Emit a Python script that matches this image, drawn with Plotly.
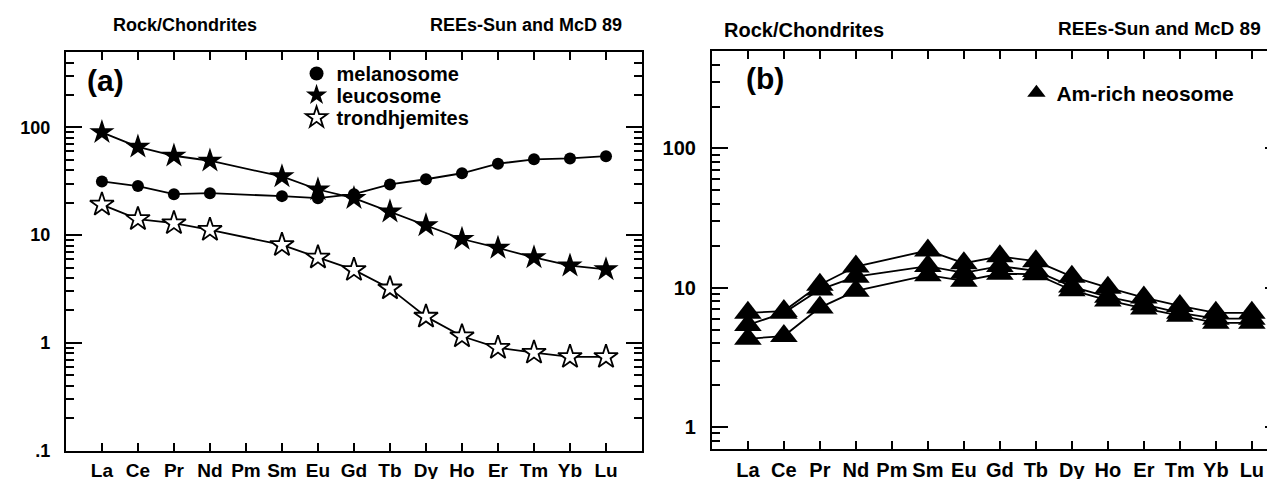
import plotly.graph_objects as go

elements = ["La", "Ce", "Pr", "Nd", "Pm", "Sm", "Eu", "Gd", "Tb", "Dy", "Ho", "Er", "Tm", "Yb", "Lu"]
xpos = list(range(1, len(elements) + 1))

# Panel (a) chondrite-normalised values (Pm not analysed)
melanosome = [31.5, 28.5, 24.0, 24.5, None, 23.0, 22.0, 24.0, 29.5, 33.0, 37.5, 46.0, 50.5, 51.5, 54.0]
leucosome = [90.0, 66.0, 54.5, 49.0, None, 35.0, 26.5, 22.0, 16.5, 12.3, 9.2, 7.6, 6.2, 5.2, 4.8]
trondhjemites = [19.2, 14.1, 12.9, 11.2, None, 8.1, 6.2, 4.75, 3.2, 1.75, 1.15, 0.9, 0.81, 0.74, 0.74]

# Panel (b) Am-rich neosome samples
neosome_1 = [6.6, 6.8, 10.5, 14.2, None, 18.5, 15.0, 16.8, 15.5, 12.0, 10.0, 8.5, 7.4, 6.6, 6.6]
neosome_2 = [5.4, 6.6, 9.7, 12.0, None, 14.3, 12.8, 14.3, 13.2, 10.2, 8.6, 7.6, 6.6, 6.0, 6.0]
neosome_3 = [4.3, 4.5, 7.2, 9.5, None, 12.3, 11.2, 12.6, 12.5, 9.6, 8.1, 7.1, 6.3, 5.6, 5.6]

W, H = 1275, 479
FONT = "Liberation Sans"
BLACK = "black"


def px_x(p):
    return p / W


def px_y(p):
    return 1 - p / H


def bold(size):
    return dict(family=FONT, size=size, color=BLACK, weight="bold")


fig = go.Figure()

line_style = dict(color=BLACK, width=1.8)

fig.add_trace(go.Scatter(x=xpos, y=melanosome, mode="lines+markers", connectgaps=True,
                         line=line_style, marker=dict(symbol="circle", size=12, color=BLACK),
                         showlegend=False, xaxis="x", yaxis="y"))
fig.add_trace(go.Scatter(x=xpos, y=leucosome, mode="lines+markers", connectgaps=True,
                         line=line_style, marker=dict(symbol="star", size=19, color=BLACK),
                         showlegend=False, xaxis="x", yaxis="y"))
fig.add_trace(go.Scatter(x=xpos, y=trondhjemites, mode="lines+markers", connectgaps=True,
                         line=line_style,
                         marker=dict(symbol="star", size=18, color="white", line=dict(color=BLACK, width=1.8)),
                         showlegend=False, xaxis="x", yaxis="y"))

for series in (neosome_1, neosome_2, neosome_3):
    fig.add_trace(go.Scatter(x=xpos, y=series, mode="lines+markers", connectgaps=True,
                             line=line_style, marker=dict(symbol="triangle-up", size=24, color=BLACK),
                             showlegend=False, xaxis="x2", yaxis="y2"))

# legend-only entries, each in its own legend box so spacing can match the original
legend_items = [
    ("melanosome", dict(symbol="circle", size=14, color=BLACK), "legend", "x", "y"),
    ("leucosome", dict(symbol="star", size=17, color=BLACK), "legend2", "x", "y"),
    ("trondhjemites", dict(symbol="star", size=17, color="white", line=dict(color=BLACK, width=1.8)),
     "legend3", "x", "y"),
    ("Am-rich neosome", dict(symbol="triangle-up", size=17, color=BLACK), "legend4", "x2", "y2"),
]
for name, mk, lg, xa, ya in legend_items:
    fig.add_trace(go.Scatter(x=[None], y=[None], mode="markers", name=name, marker=mk,
                             legend=lg, xaxis=xa, yaxis=ya))


def xaxis_style(fs):
    return dict(tickmode="array", tickvals=xpos, ticktext=elements, ticks="inside", ticklen=8,
                tickwidth=2, tickcolor=BLACK, showline=True, linewidth=2, linecolor=BLACK,
                mirror="allticks", showgrid=False, zeroline=False, tickfont=bold(fs),
                ticklabelstandoff=2)


def yaxis_style(fs):
    return dict(type="log", ticks="inside", ticklen=16, tickwidth=2, tickcolor=BLACK,
                showline=True, linewidth=2, linecolor=BLACK, mirror="allticks",
                showgrid=False, zeroline=False, tickfont=bold(fs), ticklabelstandoff=10)


left_minor = [0.2, 0.3, 0.4, 0.5, 0.6, 0.7, 0.8, 0.9, 2, 3, 4, 5, 6, 7, 8, 9,
              20, 30, 40, 50, 60, 70, 80, 90, 200, 300, 400]
right_minor = [0.8, 0.9, 2, 3, 4, 5, 6, 7, 8, 9, 20, 30, 40, 50, 60, 70, 80, 90, 200, 300, 400]
minor_style = dict(ticks="inside", ticklen=8, tickwidth=2, tickcolor=BLACK)


def legend_box(xp, yp, fs):
    return dict(x=px_x(xp), y=px_y(yp), xanchor="left", yanchor="top",
                bgcolor="rgba(0,0,0,0)", borderwidth=0, font=bold(fs), itemwidth=30)


fig.update_layout(
    width=W, height=H, autosize=False,
    margin=dict(l=0, r=0, t=0, b=0),
    paper_bgcolor="white", plot_bgcolor="white",
    font=dict(family=FONT, color=BLACK),
    xaxis=dict(domain=[px_x(58), px_x(635)], range=[0, 16], anchor="y", **xaxis_style(19)),
    yaxis=dict(domain=[px_y(452), px_y(45)], range=[-1, 2.699], anchor="x",
               tickvals=[0.1, 1, 10, 100], ticktext=[".1", "1", "10", "100"],
               minor=dict(tickvals=left_minor, **minor_style), **yaxis_style(18)),
    xaxis2=dict(domain=[px_x(705), 1.0], range=[0, 15.81], anchor="y2", **xaxis_style(20)),
    yaxis2=dict(domain=[px_y(450), px_y(44)], range=[-0.155, 2.699], anchor="x2",
                tickvals=[1, 10, 100], ticktext=["1", "10", "100"],
                minor=dict(tickvals=right_minor, **minor_style), **yaxis_style(20)),
    legend=legend_box(289, 47, 20),
    legend2=legend_box(289, 69, 20),
    legend3=legend_box(289, 92, 20),
    legend4=legend_box(1010, 66, 21),
    showlegend=True,
)

annotations = [
    dict(text="Rock/Chondrites", x=px_x(177), y=px_y(17), font=bold(18)),
    dict(text="REEs-Sun and McD 89", x=px_x(519), y=px_y(17), font=bold(18)),
    dict(text="Rock/Chondrites", x=px_x(797), y=px_y(22), font=bold(20)),
    dict(text="REEs-Sun and McD 89", x=px_x(1153), y=px_y(21), font=bold(19)),
    dict(text="(a)", x=px_x(98), y=px_y(74), font=bold(30)),
    dict(text="(b)", x=px_x(758), y=px_y(72), font=bold(30)),
]
for a in annotations:
    a.update(xref="paper", yref="paper", showarrow=False, xanchor="center", yanchor="middle")
fig.update_layout(annotations=annotations)

fig.write_html("out.html")
